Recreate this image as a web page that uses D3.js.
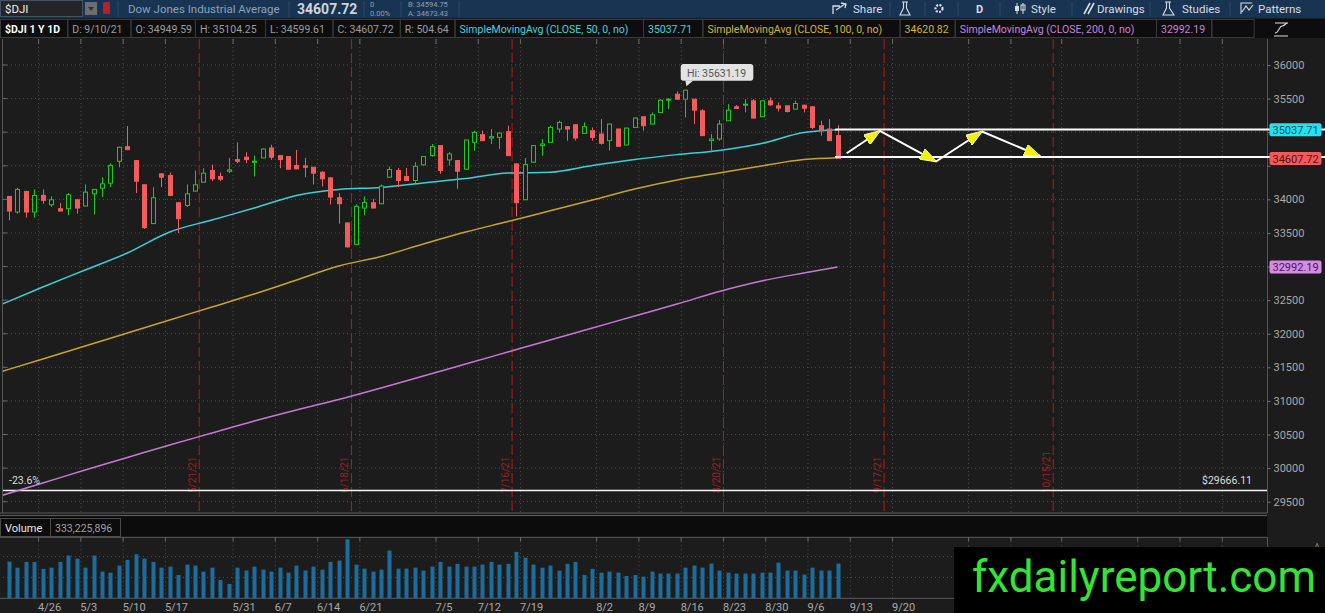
<!DOCTYPE html>
<html>
<head>
<meta charset="utf-8">
<script src="https://cdn.jsdelivr.net/npm/d3@7"></script>
<style>
  body { margin: 0; background: #1c1c1c; overflow: hidden; }
  svg { display: block; }
  text { font-family: Roboto, "Open Sans", sans-serif; }
</style>
</head>
<body>
<div id="chart"></div>
<script>
// ---- data (candle index 0 = first visible bar, 98 = 9/10/21) ----
const opens = [34044,33812,34118,33812,34059,33920,33861,33861,33994,33901,
  34083,34167,34241,34567,34785,34577,34217,33639,34380,34355,
  33950,33910,34123,34256,34429,34340,34419,34592,34627,34557,
  34617,34765,34651,34637,34503,34498,34478,34404,34320,34024,
  33649,33327,33871,33950,33935,34330,34429,34340,34281,34513,
  34651,34800,34587,34577,34449,34849,34963,34913,34923,35007,
  34528,33994,34553,34800,34849,35047,35081,35111,34982,35022,
  34972,34874,35047,34809,35071,35229,35121,35294,35476,35565,
  35491,35491,35318,34874,34898,35170,35378,35402,35467,35229,
  35467,35392,35392,35343,35402,35378,35096,35047,34949.59];
const highs = [34050,34172,34125,34148,34148,34044,33945,34093,34000,34222,
  34152,34330,34538,34785,35091,34580,34220,34182,34385,34400,
  33955,34222,34429,34464,34518,34400,34617,34849,34701,34651,
  34755,34814,34655,34640,34735,34617,34482,34419,34325,34093,
  33655,33925,34044,34009,34222,34488,34469,34469,34553,34640,
  34824,34805,34701,34580,34888,35022,35022,35047,34990,35096,
  34532,34617,34805,34898,35096,35170,35085,35115,35145,35071,
  35195,35125,35050,35065,35219,35232,35294,35491,35501,35605,
  35631.19,35495,35343,34972,35180,35417,35402,35491,35491,35470,
  35516,35442,35395,35467,35405,35381,35170,35195,35104.25];
const lows = [33688,33787,33728,33728,33935,33886,33820,33762,33787,33895,
  33777,34034,34182,34478,34735,34093,33560,33635,34182,34055,
  33500,33886,34120,34252,34271,34271,34390,34538,34538,34340,
  34612,34587,34464,34439,34450,34330,34222,34192,33925,33639,
  33285,33320,33762,33868,33930,34326,34182,34278,34241,34510,
  34637,34380,34503,34157,34445,34725,34870,34824,34750,34648,
  33747,33990,34550,34651,34845,34997,34874,34874,34978,34874,
  34814,34725,34786,34805,35068,35022,35118,35290,35343,35488,
  35219,35121,34944,34701,34874,35166,35350,35294,35207,35225,
  35392,35308,35294,35340,35294,35047,34948,34870,34599.61];
const closes = [33826,34148,33812,34059,33985,33994,33826,34069,33871,34108,
  34148,34232,34503,34775,34740,34271,33579,34024,34330,34059,
  33713,34083,34217,34390,34306,34301,34439,34567,34592,34567,
  34750,34627,34592,34449,34454,34478,34390,34306,34034,33935,
  33293,33896,33955,33871,34197,34444,34281,34281,34493,34637,
  34785,34429,34676,34419,34884,34997,34874,34933,34987,34651,
  33950,34518,34800,34824,35071,35145,35047,34913,35081,34923,
  34834,35121,34790,35061,35210,35096,35259,35476,35491,35491,
  35625,35328,34948,34898,35121,35328,35353,35417,35210,35467,
  35407,35358,35308,35427,35358,35071,35032,34874,34607.72];
// volume in millions of shares
const volumes = [352,294,349,349,282,294,349,410,381,294,
  410,256,246,314,368,422,381,349,294,304,
  224,323,314,256,294,176,138,294,266,304,
  275,256,294,246,314,266,304,275,349,362,
  566,323,285,256,275,458,285,285,294,266,
  304,349,304,330,304,304,323,349,323,330,
  445,390,323,294,314,266,330,349,224,282,
  246,256,246,214,224,208,256,237,237,237,
  294,314,294,333,266,246,237,237,237,246,
  246,342,266,266,227,294,266,266,333.225896];

// moving averages sampled at these bar indices
const smaIdx = [-1.06,4,9,14,19,24,29,34,39,44,49,54,59,64,69,74,79,84,89,94,98];
const sma50 = [32428,32696,32949,33202,33514,33693,33871,34058,34147,34177,34244,
  34311,34392,34403,34504,34593,34666,34729,34832,34995,35037.71];
const sma100 = [31430,31624,31817,32011,32204,32398,32591,32800,33008,33150,33336,
  33514,33670,33831,33991,34154,34288,34392,34497,34593,34620.82];
const sma200 = [29585,29778,29972,30158,30344,30522,30701,30865,31021,31192,31371,
  31549,31728,31907,32085,32264,32442,32629,32785,32904,32992.19];

const gridIdx = [3.5,8.5,13.5,18.5,26.5,31.5,36.5,41.5,50.5,55.5,60.5,69.5,74.5,
  79.5,84.5,89.5,94.5,99.5,104.5,113.5,118.5,124.5,133.5,138.5,143.5];
const tickLabels = ["4/26","5/3","5/10","5/17","5/31","6/7","6/14","6/21","7/5","7/12",
  "7/19","8/2","8/9","8/16","8/23","8/30","9/6","9/13","9/20"];
const priceTicks = [29500,30000,30500,31000,31500,32000,32500,33000,33500,34000,
  34500,35000,35500,36000];
const expiryIdx = [22.5,40.5,59.5,84.5,103.5,123.5];
const expiryLabels = ["5/21/21","6/18/21","7/16/21","8/20/21","9/17/21","10/15/21"];

const fibLevel = 29666.11;
const rangeLevels = [35040, 34632];
const zigzag = [[99.08,34686],[103.0,35018],[109.64,34564],[115.08,35010],[121.94,34645]];

const W = 1325, H = 613;
const plot = {left: 3, right: 1267, top: 39, bottom: 513};
const vol = {top: 537.3, bottom: 598.3};

const x = d3.scaleLinear().domain([0, 98]).range([9, 837.6]);
const y = d3.scaleLinear().domain([29500, 36000]).range([501.7, 65]);
const yv = d3.scaleLinear().domain([0, 585]).range([vol.bottom, vol.top]);

const upColor = "#22c822", downColor = "#f25c5c";

const svg = d3.select("#chart").append("svg").attr("width", W).attr("height", H);
svg.append("rect").attr("width", W).attr("height", H).attr("fill", "#1c1c1c");

const defs = svg.append("defs");
defs.append("clipPath").attr("id", "plotClip").append("rect")
    .attr("x", plot.left).attr("y", plot.top)
    .attr("width", plot.right - plot.left).attr("height", plot.bottom - plot.top);
defs.append("marker").attr("id", "arrowHead")
    .attr("viewBox", "0 0 17 12").attr("refX", 16).attr("refY", 6)
    .attr("markerWidth", 17).attr("markerHeight", 12)
    .attr("markerUnits", "userSpaceOnUse").attr("orient", "auto")
  .append("path").attr("d", "M0,0 L17,6 L0,12 Z")
    .attr("fill", "#f2f200").attr("stroke", "#ffffff").attr("stroke-width", 0.8);

// ---- top toolbar ----
const bar = svg.append("g");
bar.append("rect").attr("width", W).attr("height", 18).attr("fill", "#183452");
bar.append("rect").attr("x", 0.5).attr("y", 0.5).attr("width", 82).attr("height", 16)
    .attr("fill", "#252525").attr("stroke", "#3f5268");
bar.append("text").attr("x", 5).attr("y", 13).attr("fill", "#f0f0f0")
    .attr("font-size", 11.5).text("$DJI");
bar.append("rect").attr("x", 85).attr("y", 2).attr("width", 12).attr("height", 13).attr("fill", "#6e6e6e");
bar.append("path").attr("d", "M88,7 L94,7 L91,11 Z").attr("fill", "#333");
bar.append("rect").attr("x", 103).attr("y", 2).attr("width", 7).attr("height", 12).attr("rx", 1.5).attr("fill", "#b32222");
bar.append("text").attr("x", 128).attr("y", 12.5).attr("fill", "#8da1b6")
    .attr("font-size", 11.5).text("Dow Jones Industrial Average");
bar.append("text").attr("x", 297).attr("y", 14).attr("fill", "#cfd5db")
    .attr("font-size", 14).attr("font-weight", "bold").text("34607.72");
bar.append("text").attr("x", 370).attr("y", 7).attr("fill", "#8ea0b2").attr("font-size", 7.5).text("0");
bar.append("text").attr("x", 370).attr("y", 15.5).attr("fill", "#8ea0b2").attr("font-size", 7.5).text("0.00%");
bar.append("text").attr("x", 408).attr("y", 7).attr("fill", "#8ea0b2").attr("font-size", 7.5).text("B: 34594.75");
bar.append("text").attr("x", 408).attr("y", 15.5).attr("fill", "#8ea0b2").attr("font-size", 7.5).text("A: 34673.43");
[118, 289, 364, 401, 459].forEach(function(sx) {
  bar.append("line").attr("x1", sx).attr("x2", sx).attr("y1", 1).attr("y2", 17)
     .attr("stroke", "#2b4866");
});

const toolItems = [
  {label: "Share", x: 853}, {label: "Style", x: 1031}, {label: "Drawings", x: 1097},
  {label: "Studies", x: 1182}, {label: "Patterns", x: 1258}
];
toolItems.forEach(function(t) {
  bar.append("text").attr("x", t.x).attr("y", 12.5).attr("fill", "#d8dde2")
     .attr("font-size", 11.5).text(t.label);
});
bar.append("text").attr("x", 976).attr("y", 12.5).attr("fill", "#d8dde2")
   .attr("font-size", 11).attr("font-weight", "bold").text("D");
// little toolbar icons
bar.append("path").attr("d", "M833,14 L833,6 L840,6 M836,10 L845,4 M841,3 L846,4 L845,8")
   .attr("fill", "none").attr("stroke", "#d8dde2").attr("stroke-width", 1.3);
bar.append("path").attr("d", "M902,2 L908,2 M903.5,2 L903.5,8 L900,15 L910,15 L906.5,8 L906.5,2")
   .attr("fill", "none").attr("stroke", "#d8dde2").attr("stroke-width", 1.1);
bar.append("circle").attr("cx", 939).attr("cy", 8.5).attr("r", 3.5)
   .attr("fill", "none").attr("stroke", "#d8dde2").attr("stroke-width", 2.2).attr("stroke-dasharray", "2,1.3");
bar.append("path").attr("d", "M1017,3 L1017,14 M1023,3 L1023,14").attr("stroke", "#d8dde2");
bar.append("rect").attr("x", 1015).attr("y", 6).attr("width", 4).attr("height", 5).attr("fill", "#d8dde2");
bar.append("rect").attr("x", 1021).attr("y", 5).attr("width", 4).attr("height", 5).attr("fill", "none").attr("stroke", "#d8dde2");
bar.append("path").attr("d", "M1084,14 L1090,3 M1088,14 L1094,3").attr("stroke", "#d8dde2").attr("stroke-width", 1.6);
bar.append("path").attr("d", "M1165,2 L1171,2 M1166.5,2 L1166.5,8 L1163,15 L1174,15 L1169.5,8 L1169.5,2")
   .attr("fill", "none").attr("stroke", "#d8dde2").attr("stroke-width", 1.1);
bar.append("path").attr("d", "M1241,14 L1241,3 L1252,3 M1242,12 L1246,6 L1249,10 L1253,5")
   .attr("fill", "none").attr("stroke", "#d8dde2").attr("stroke-width", 1.1);
[890, 925, 958, 1000, 1072, 1150, 1230].forEach(function(sx) {
  bar.append("line").attr("x1", sx).attr("x2", sx).attr("y1", 2).attr("y2", 16).attr("stroke", "#2b4866");
});

// ---- study header row ----
const headerCells = [
  {t: "$DJI 1 Y 1D", x0: 0, x1: 67.3, c: "#ffffff", b: true},
  {t: "D: 9/10/21", x0: 67.3, x1: 130.5, c: "#9c9c9c"},
  {t: "O: 34949.59", x0: 130.5, x1: 194.9, c: "#9c9c9c"},
  {t: "H: 35104.25", x0: 194.9, x1: 265, c: "#9c9c9c"},
  {t: "L: 34599.61", x0: 265, x1: 332.5, c: "#9c9c9c"},
  {t: "C: 34607.72", x0: 332.5, x1: 399.8, c: "#9c9c9c"},
  {t: "R: 504.64", x0: 399.8, x1: 454.5, c: "#9c9c9c"},
  {t: "SimpleMovingAvg (CLOSE, 50, 0, no)", x0: 454.5, x1: 643, c: "#45d2dc"},
  {t: "35037.71", x0: 643, x1: 702.4, c: "#45d2dc"},
  {t: "SimpleMovingAvg (CLOSE, 100, 0, no)", x0: 702.4, x1: 899.6, c: "#d6b23a"},
  {t: "34620.82", x0: 899.6, x1: 954.7, c: "#d6b23a"},
  {t: "SimpleMovingAvg (CLOSE, 200, 0, no)", x0: 954.7, x1: 1156, c: "#c981da"},
  {t: "32992.19", x0: 1156, x1: 1211.3, c: "#c981da"},
  {t: "", x0: 1211.3, x1: 1253.7, c: "#9c9c9c"}
];
const hdr = svg.append("g");
hdr.append("rect").attr("x", 0).attr("y", 19).attr("width", W).attr("height", 19).attr("fill", "#0d0d0d");
headerCells.forEach(function(cell) {
  hdr.append("rect").attr("x", cell.x0 + 0.5).attr("y", 19.5)
     .attr("width", cell.x1 - cell.x0).attr("height", 18)
     .attr("fill", "none").attr("stroke", "#3a3a3a");
  hdr.append("text").attr("x", cell.x0 + 5).attr("y", 33).attr("fill", cell.c)
     .attr("font-size", 10.5).attr("font-weight", cell.b ? "bold" : "normal").text(cell.t);
});
hdr.append("path").attr("d", "M1274,36 L1288,36 M1275,33 C1279,33 1279,26 1282,26 C1285,26 1285,23 1288,23 M1275,23 L1288,23")
   .attr("fill", "none").attr("stroke", "#e0e0e0").attr("stroke-width", 1.1);

// ---- price panel ----
const price = svg.append("g");
const clipped = price.append("g").attr("clip-path", "url(#plotClip)");

// dotted grid
clipped.selectAll(".hgrid").data(priceTicks).join("line")
  .attr("x1", plot.left).attr("x2", plot.right)
  .attr("y1", d => y(d)).attr("y2", d => y(d))
  .attr("stroke", "#505050").attr("stroke-dasharray", "1,3");
clipped.selectAll(".vgrid").data(gridIdx).join("line")
  .attr("x1", d => x(d)).attr("x2", d => x(d))
  .attr("y1", plot.top).attr("y2", plot.bottom)
  .attr("stroke", "#505050").attr("stroke-dasharray", "1,3");

// frame ticks
price.selectAll(".ltick").data(priceTicks).join("line")
  .attr("x1", plot.left).attr("x2", plot.left + 4)
  .attr("y1", d => y(d)).attr("y2", d => y(d)).attr("stroke", "#6a6a6a");
price.selectAll(".ttick").data(gridIdx).join("line")
  .attr("x1", d => x(d)).attr("x2", d => x(d))
  .attr("y1", plot.top).attr("y2", plot.top + 5).attr("stroke", "#6a6a6a");
price.append("line").attr("x1", plot.left - 0.5).attr("x2", plot.left - 0.5)
  .attr("y1", plot.top).attr("y2", plot.bottom).attr("stroke", "#555");
price.append("line").attr("x1", plot.right + 0.5).attr("x2", plot.right + 0.5)
  .attr("y1", plot.top).attr("y2", plot.bottom).attr("stroke", "#555");
price.append("line").attr("x1", 0).attr("x2", plot.right).attr("y1", plot.bottom).attr("y2", plot.bottom).attr("stroke", "#5a5a5a");
price.append("line").attr("x1", 0).attr("x2", plot.right).attr("y1", plot.bottom + 2.5).attr("y2", plot.bottom + 2.5).attr("stroke", "#5a5a5a");

// option expiration lines
clipped.selectAll(".expiry").data(expiryIdx).join("line")
  .attr("x1", d => x(d)).attr("x2", d => x(d))
  .attr("y1", plot.top).attr("y2", plot.bottom)
  .attr("stroke", "#b41c1c").attr("stroke-dasharray", "10,4");
clipped.selectAll(".expiryLabel").data(expiryIdx).join("text")
  .attr("transform", d => "translate(" + (x(d) - 3) + ",493) rotate(-90)")
  .attr("fill", "#9c2222").attr("font-size", 10).text((d, k) => expiryLabels[k]);

// fibonacci level
clipped.append("line").attr("x1", plot.left).attr("x2", plot.right)
  .attr("y1", y(fibLevel)).attr("y2", y(fibLevel))
  .attr("stroke", "#f4f4f4").attr("stroke-width", 1.5);
price.append("text").attr("x", 9).attr("y", 483.5).attr("fill", "#dddddd")
  .attr("font-size", 10.5).text("-23.6%");
price.append("text").attr("x", 1252).attr("y", 484).attr("text-anchor", "end")
  .attr("fill", "#dddddd").attr("font-size", 10.5).text("$" + fibLevel.toFixed(2));

// moving averages
const smaLine = d3.line().x(d => x(d[0])).y(d => y(d[1])).curve(d3.curveMonotoneX);
[[sma200, "#c47ad3"], [sma100, "#c9a526"], [sma50, "#3ccfd8"]].forEach(function(s) {
  clipped.append("path").datum(smaIdx.map((i, k) => [i, s[0][k]]))
    .attr("d", smaLine).attr("fill", "none").attr("stroke", s[1]).attr("stroke-width", 1.5);
});

// candles
const candles = opens.map((o, i) => ({i: i, o: o, h: highs[i], l: lows[i], c: closes[i]}));
const cg = clipped.selectAll(".candle").data(candles).join("g");
cg.append("line")
  .attr("x1", d => Math.round(x(d.i)) + 0.5).attr("x2", d => Math.round(x(d.i)) + 0.5)
  .attr("y1", d => y(d.h)).attr("y2", d => y(d.l))
  .attr("stroke", d => d.c >= d.o ? upColor : downColor);
cg.append("rect")
  .attr("x", d => Math.round(x(d.i)) - 1.5)
  .attr("y", d => y(Math.max(d.o, d.c)))
  .attr("width", 4)
  .attr("height", d => Math.max(1, y(Math.min(d.o, d.c)) - y(Math.max(d.o, d.c))))
  .attr("fill", d => d.c >= d.o ? "#1c1c1c" : downColor)
  .attr("stroke", d => d.c >= d.o ? upColor : downColor);

// drawn range and zigzag
price.selectAll(".range").data(rangeLevels).join("line")
  .attr("x1", x(97.7)).attr("x2", W)
  .attr("y1", d => y(d)).attr("y2", d => y(d))
  .attr("stroke", "#ffffff").attr("stroke-width", 2);
d3.pairs(zigzag).forEach(function(p) {
  price.append("line")
    .attr("x1", x(p[0][0])).attr("y1", y(p[0][1]))
    .attr("x2", x(p[1][0])).attr("y2", y(p[1][1]))
    .attr("stroke", "#ffffff").attr("stroke-width", 2)
    .attr("marker-end", "url(#arrowHead)");
});

// high bubble
const hiIdx = highs.indexOf(d3.max(highs));
const hx = x(hiIdx), hy = y(highs[hiIdx]);
price.append("rect").attr("x", hx - 4.7).attr("y", hy - 25.8).attr("width", 72.6).attr("height", 16.7)
  .attr("rx", 3).attr("fill", "#e3e3e3");
price.append("path").attr("d", "M" + hx + "," + (hy - 9.3) + " L" + (hx + 8) + "," + (hy - 9.3) + " L" + (hx + 1) + "," + (hy - 3.5) + " Z")
  .attr("fill", "#e3e3e3");
price.append("text").attr("x", hx + 1.5).attr("y", hy - 13).attr("fill", "#555")
  .attr("font-size", 10.5).text("Hi: " + d3.max(highs).toFixed(2));

// right price axis; the last-value markers sit on top of the ticks they cover
const markers = [
  {v: sma50[sma50.length - 1], bg: "#22e2f2", fg: "#0a5058"},
  {v: closes[closes.length - 1], bg: "#f05a5a", fg: "#5c1010"},
  {v: sma200[sma200.length - 1], bg: "#d58be2", fg: "#4a1856"}
];
const covered = d => markers.some(m => Math.abs(y(m.v) - y(d)) < 13);
const yAxis = d3.axisRight(y).tickValues(priceTicks).tickSize(3).tickPadding(3)
  .tickFormat(d => covered(d) ? "" : d3.format("d")(d));
const ya = price.append("g").attr("transform", "translate(" + (plot.right + 0.5) + ",0)").call(yAxis);
ya.select(".domain").remove();
ya.selectAll("line").attr("stroke", "#777");
ya.selectAll("text").attr("fill", "#a9a9a9").attr("font-size", 11).attr("font-family", "Roboto, sans-serif");

markers.forEach(function(m) {
  price.append("rect").attr("x", 1269.5).attr("y", y(m.v) - 6.5).attr("width", 52).attr("height", 13)
    .attr("rx", 2).attr("fill", m.bg);
  price.append("text").attr("x", 1272.5).attr("y", y(m.v) + 4).attr("fill", m.fg)
    .attr("font-size", 11).text(m.v.toFixed(2));
});

// ---- volume panel ----
const vg = svg.append("g");
vg.append("rect").attr("x", 0).attr("y", 516.5).attr("width", plot.right).attr("height", 20.5).attr("fill", "#0c0c0c");
vg.append("rect").attr("x", 0.5).attr("y", 518.5).attr("width", 50).attr("height", 18)
  .attr("fill", "none").attr("stroke", "#4a4a4a");
vg.append("rect").attr("x", 50.5).attr("y", 518.5).attr("width", 70).attr("height", 18)
  .attr("fill", "none").attr("stroke", "#4a4a4a");
vg.append("text").attr("x", 5).attr("y", 532).attr("fill", "#e8e8e8").attr("font-size", 11).text("Volume");
vg.append("text").attr("x", 55).attr("y", 532).attr("fill", "#a0a0a0").attr("font-size", 10.5)
  .text(d3.format(",")(Math.round(volumes[volumes.length - 1] * 1e6)));
vg.append("line").attr("x1", 0).attr("x2", plot.right).attr("y1", vol.top).attr("y2", vol.top).attr("stroke", "#5a5a5a");
vg.append("line").attr("x1", plot.right + 0.5).attr("x2", plot.right + 0.5).attr("y1", vol.top).attr("y2", vol.bottom).attr("stroke", "#555");
vg.selectAll(".vhg").data([200, 400]).join("line")
  .attr("x1", plot.left).attr("x2", plot.right)
  .attr("y1", d => yv(d)).attr("y2", d => yv(d))
  .attr("stroke", "#505050").attr("stroke-dasharray", "1,3");
vg.selectAll(".vvg").data(gridIdx).join("line")
  .attr("x1", d => x(d)).attr("x2", d => x(d))
  .attr("y1", vol.top).attr("y2", vol.bottom)
  .attr("stroke", "#505050").attr("stroke-dasharray", "1,3");
vg.selectAll(".vtick").data(gridIdx).join("line")
  .attr("x1", d => x(d)).attr("x2", d => x(d))
  .attr("y1", vol.top).attr("y2", vol.top + 4).attr("stroke", "#6a6a6a");
vg.selectAll(".vbar").data(volumes).join("rect")
  .attr("x", (d, i) => Math.round(x(i)) - 1.5).attr("width", 4)
  .attr("y", d => yv(d)).attr("height", d => vol.bottom - yv(d))
  .attr("fill", "#1c6d9d");
vg.append("line").attr("x1", 0).attr("x2", plot.right).attr("y1", vol.bottom).attr("y2", vol.bottom).attr("stroke", "#5a5a5a");
vg.append("text").attr("x", 1315).attr("y", 551).attr("fill", "#888").attr("font-size", 10).text("^");

// date axis
const xAxis = d3.axisBottom(x).tickValues(gridIdx.slice(0, tickLabels.length))
  .tickSize(0).tickPadding(0).tickFormat((d, k) => tickLabels[k]);
const xa = vg.append("g").attr("transform", "translate(0," + (vol.bottom + 3) + ")").call(xAxis);
xa.select(".domain").remove();
xa.selectAll("text").attr("text-anchor", "start").attr("dx", -1).attr("dy", 0).attr("y", 9.5)
  .attr("fill", "#aaaaaa").attr("font-size", 11).attr("font-family", "Roboto, sans-serif");

// ---- watermark ----
svg.append("rect").attr("x", 954).attr("y", 547).attr("width", W - 954).attr("height", H - 547).attr("fill", "#000");
svg.append("text").attr("x", 972).attr("y", 592).attr("fill", "#36e236")
  .attr("font-family", "'Liberation Sans', Arial, sans-serif").attr("font-size", 44)
  .text("fxdailyreport.com");
</script>
</body>
</html>
